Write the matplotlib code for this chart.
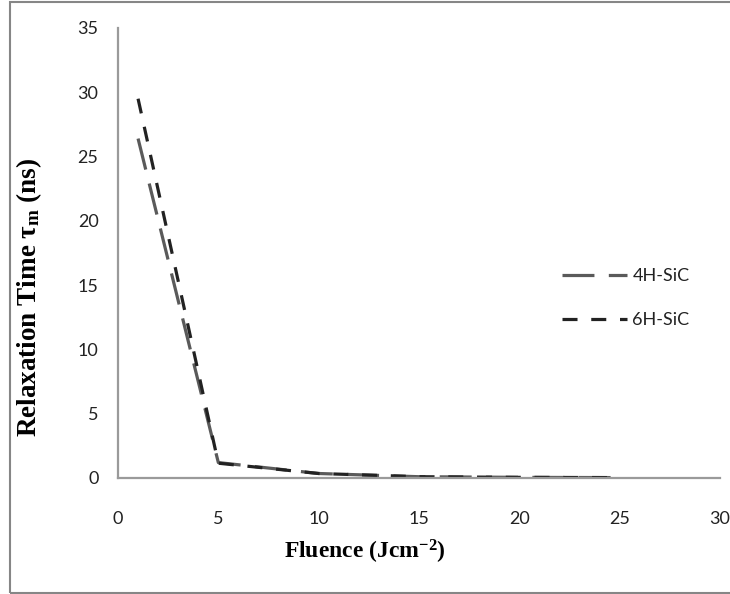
import matplotlib
matplotlib.use("Agg")
import matplotlib.pyplot as plt
from matplotlib.patches import Rectangle

# Relaxation time vs. fluence for two SiC polytypes
fluence = [1, 5, 10, 15, 20, 25]
tau_4h = [26.4, 1.2, 0.35, 0.1, 0.05, 0.03]
tau_6h = [29.5, 1.15, 0.35, 0.1, 0.05, 0.03]
series_labels = ["4H-SiC", "6H-SiC"]
x_ticks = [0, 5, 10, 15, 20, 25, 30]
y_ticks = [0, 5, 10, 15, 20, 25, 30, 35]

plt.rcParams["mathtext.fontset"] = "custom"
plt.rcParams["mathtext.rm"] = "Liberation Serif:bold"
plt.rcParams["mathtext.it"] = "Liberation Serif:bold"
plt.rcParams["mathtext.bf"] = "Liberation Serif:bold"

W, H = 730, 594
fig = plt.figure(figsize=(W / 100, H / 100), dpi=100)
ax = fig.add_axes([118 / W, 1 - 478 / H, (720 - 118) / W, (478 - 28) / H])

ax.plot(fluence, tau_4h, color="#5a5a5a", lw=2.3, dashes=(10, 4.5),
        label=series_labels[0])
ax.plot(fluence, tau_6h, color="#222222", lw=2.3, dashes=(4.7, 4.3),
        label=series_labels[1])

ax.set_xlim(0, 30)
ax.set_ylim(0, 35)
ax.set_xticks(x_ticks)
ax.set_yticks(y_ticks)
ax.tick_params(length=0, labelsize=13, colors="#222222")
ax.tick_params(axis="x", pad=24)
ax.tick_params(axis="y", pad=14)
for lbl in ax.get_xticklabels() + ax.get_yticklabels():
    lbl.set_fontfamily("Lato")

for side in ("top", "right"):
    ax.spines[side].set_visible(False)
for side in ("left", "bottom"):
    ax.spines[side].set_color("#9a9a9a")
    ax.spines[side].set_linewidth(1.6)

ax.set_xlabel("Fluence (Jcm$^{-2}$)", fontfamily="Liberation Serif",
              fontweight="bold", fontsize=17)
ax.xaxis.set_label_coords((365 - 118) / 602, (478 - 538) / 450)
ax.xaxis.label.set_va("top")
ax.set_ylabel("Relaxation Time τ$_{\\mathrm{m}}$ (ns)", fontfamily="Liberation Serif",
              fontweight="bold", fontsize=19.5)
ax.yaxis.set_label_coords((44 - 118) / 602, (478 - 297) / 450)

leg = fig.legend(loc="center left", bbox_to_anchor=(562 / W, 1 - 298 / H),
                 frameon=False, fontsize=13, handlelength=3.6,
                 handletextpad=0.3, labelspacing=1.55, borderpad=0,
                 borderaxespad=0)
for t in leg.get_texts():
    t.set_fontfamily("Lato")
    t.set_color("#222222")

fig.patches.append(Rectangle((10 / W, 1 - 593 / H), (W + 5 - 10) / W, (593 - 2) / H,
                             transform=fig.transFigure, fill=False,
                             edgecolor="#868686", lw=1.5))

fig.savefig("out.png", dpi=100)
